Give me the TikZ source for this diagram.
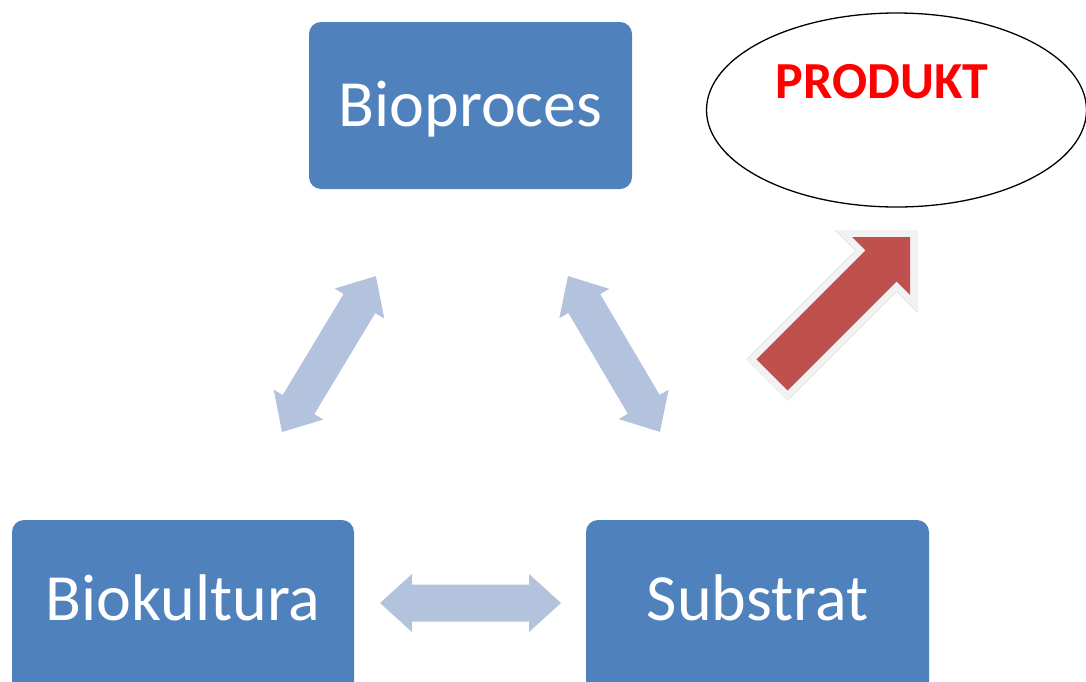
\documentclass[tikz,border=0pt]{standalone}
\usepackage{fontspec}
\setmainfont{Carlito}
\usetikzlibrary{shapes.geometric}
\definecolor{boxblue}{RGB}{79,129,189}
\definecolor{arrblue}{RGB}{179,195,222}
\definecolor{redfill}{RGB}{192,80,77}
\definecolor{redborder}{RGB}{242,242,242}
\definecolor{redshadow}{RGB}{176,136,136}
\definecolor{prodred}{RGB}{255,0,0}
% double arrow: #1 start tip coordinate, #2 angle, #3 length
\newcommand{\dblarr}[3]{%
  \begin{scope}[shift={#1}, rotate=#2]
    \fill[arrblue] (0,0) -- (32,29) -- (32,18.5) -- ({#3-32},18.5) -- ({#3-32},29) -- (#3,0)
      -- ({#3-32},-29) -- ({#3-32},-18.5) -- (32,-18.5) -- (32,-29) -- cycle;
  \end{scope}}
\begin{document}
\begin{tikzpicture}[x=1pt,y=-1pt,
  box/.style={fill=boxblue, rounded corners=12pt, text=white,
    font=\fontsize{66}{78}\selectfont, text height=41pt, inner sep=0pt},
  prodtext/.style={text=prodred, font=\fontsize{52}{62}\selectfont\bfseries, inner sep=0pt}]
\useasboundingbox (0,0) rectangle (1086,681);
\clip (0,0) rectangle (1086,681);

% boxes
\node[box, minimum width=323pt, minimum height=167pt, text depth=0pt] (bioproces) at (470.5,105.5) {Bioproces};
\node[box, minimum width=342pt, minimum height=176pt, text depth=16pt] (biokultura) at (183,608) {Biokultura};
\node[box, minimum width=343pt, minimum height=176pt, text depth=16pt] (substrat) at (757.5,608) {Substrat};

% product ellipse
\node[draw=black, ellipse, line width=1.3pt, minimum width=380pt, minimum height=194pt, inner sep=0pt] (produktell) at (896.5,110) {};
\node[prodtext, anchor=base] (produkt) at (882,98) {PRODUKT};

% double arrows between boxes
\coordinate (lbot) at (282,432);
\coordinate (rtop) at (568,276);
\coordinate (hleft) at (380,603);
\dblarr{(lbot)}{58.93}{182}
\dblarr{(rtop)}{-59.47}{181}
\dblarr{(hleft)}{0}{181}

% red arrow to product
\coordinate (tip) at (910,237);
\coordinate (w1) at (852,237);
\coordinate (w2) at (910,295);
\coordinate (n1) at (865.4,250.4);
\coordinate (n2) at (896.6,281.6);
\coordinate (t1) at (756.5,359.3);
\coordinate (t2) at (787.7,390.5);
\begin{scope}[shift={(2.5,3.5)}]
  \filldraw[redshadow, line width=14pt, line join=miter]
    (t1) -- (n1) -- (w1) -- (tip) -- (w2) -- (n2) -- (t2) -- cycle;
\end{scope}
\filldraw[redborder, line width=14pt, line join=miter]
  (t1) -- (n1) -- (w1) -- (tip) -- (w2) -- (n2) -- (t2) -- cycle;
\fill[redfill]
  (t1) -- (n1) -- (w1) -- (tip) -- (w2) -- (n2) -- (t2) -- cycle;
\end{tikzpicture}
\end{document}
